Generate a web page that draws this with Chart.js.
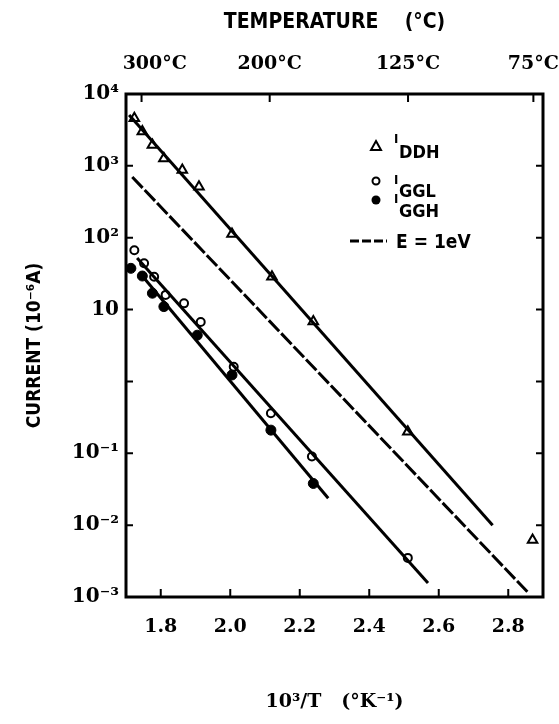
<!DOCTYPE html>
<html><head><meta charset="utf-8">
<script src="https://cdn.jsdelivr.net/npm/chart.js@4/dist/chart.umd.min.js"></script>
<style>html,body{margin:0;padding:0;background:#fff}#wrap{width:559px;height:724px;position:relative}</style>
</head><body><div id="wrap"><canvas id="c" width="559" height="724"></canvas></div>
<script>
// ---- tick definitions ----
const xTicks = [1.8, 2.0, 2.2, 2.4, 2.6, 2.8];
const xTickLabels = ['1.8', '2.0', '2.2', '2.4', '2.6', '2.8'];
const tempTicksC = [300, 200, 125, 75];
const tempTickLabels = ['    300°C', '200°C', '125°C', '75°C'];
const yTicks = [1e-3, 1e-2, 1e-1, 1, 10, 100, 1000, 10000];
const yTickLabels = ['10⁻³', '10⁻²', '10⁻¹', '', '10', '10²', '10³', '10⁴'];

// ---- measured points (x = 10^3/T, y = current in 1e-6 A) ----
const iddhX = [1.724, 1.747, 1.776, 1.809, 1.862, 1.910, 2.005, 2.120, 2.239, 2.511, 2.870];
const iddhY = [4600, 3000, 1950, 1270, 875, 510, 113, 28.7, 6.8, 0.20, 0.0062];
const igglX = [1.724, 1.752, 1.781, 1.814, 1.867, 1.915, 2.010, 2.117, 2.235, 2.511];
const igglY = [67, 44, 28.7, 16, 12.2, 6.7, 1.6, 0.36, 0.090, 0.0035];
const igghX = [1.714, 1.747, 1.776, 1.809, 1.905, 2.005, 2.117, 2.239];
const igghY = [37.5, 29.3, 16.9, 11, 4.4, 1.23, 0.21, 0.038];

// ---- fitted lines (end points) ----
const iddhFitX = [1.709, 2.755]; const iddhFitY = [5100, 0.0100];
const igglFitX = [1.732, 2.569]; const igglFitY = [52, 0.00157];
const igghFitX = [1.738, 2.282]; const igghFitY = [33, 0.0237];
const eFitX = [1.718, 2.855];    const eFitY = [700, 0.00118];

const mk = (xs, ys) => xs.map((x, i) => ({x: x, y: ys[i]}));
const SERIF = "'DejaVu Serif', 'Liberation Serif', serif";
const COND = "'DejaVu Sans Condensed', 'Liberation Sans Narrow', 'DejaVu Sans', sans-serif";

const framePlugin = {
  id: 'frame',
  afterDatasetsDraw(chart) {
    const {ctx, chartArea: a, scales} = chart;
    ctx.save();
    ctx.strokeStyle = '#000';
    ctx.lineWidth = 2;
    ctx.beginPath();
    xTicks.forEach(v => { const p = scales.x.getPixelForValue(v); ctx.moveTo(p, a.bottom); ctx.lineTo(p, a.bottom - 8); });
    tempTicksC.forEach(c => { const p = scales.x2.getPixelForValue(1000 / (c + 273.15)); ctx.moveTo(p, a.top); ctx.lineTo(p, a.top + 8); });
    yTicks.forEach(v => { const p = scales.y.getPixelForValue(v); ctx.moveTo(a.left, p); ctx.lineTo(a.left + 7, p); ctx.moveTo(a.right, p); ctx.lineTo(a.right - 7, p); });
    ctx.stroke();
    ctx.lineWidth = 3;
    ctx.strokeRect(a.left, a.top, a.right - a.left, a.bottom - a.top);
    ctx.restore();
  }
};

const legendPlugin = {
  id: 'customLegend',
  afterDraw(chart) {
    const ctx = chart.ctx;
    ctx.save();
    ctx.fillStyle = '#000'; ctx.strokeStyle = '#000';
    ctx.textAlign = 'left'; ctx.textBaseline = 'alphabetic';
    const mx = 376, tx = 394;
    ctx.lineWidth = 2;
    ctx.beginPath(); ctx.moveTo(mx, 141); ctx.lineTo(mx + 5, 150); ctx.lineTo(mx - 5, 150); ctx.closePath(); ctx.stroke();
    ctx.beginPath(); ctx.arc(mx, 181, 3.5, 0, Math.PI * 2); ctx.stroke();
    ctx.beginPath(); ctx.arc(mx, 200, 4.5, 0, Math.PI * 2); ctx.fill();
    ctx.lineWidth = 3; ctx.setLineDash([9, 3]);
    ctx.beginPath(); ctx.moveTo(350, 241); ctx.lineTo(387, 241); ctx.stroke();
    ctx.setLineDash([]);
    const rows = [['DDH', 143, 158], ['GGL', 184, 197], ['GGH', 203, 217]];
    rows.forEach(r => {
      ctx.font = 'bold 13px ' + COND; ctx.fillText('I', tx, r[1]);
      ctx.font = 'bold 18px ' + COND; ctx.fillText(r[0], tx + 5, r[2]);
    });
    ctx.font = 'bold 19px ' + COND; ctx.fillText('E = 1eV', 396, 248);
    ctx.restore();
  }
};

const lineDs = (label, xs, ys, dash) => ({
  label: label, type: 'line', data: mk(xs, ys), borderColor: '#000', borderWidth: 3,
  borderDash: dash || [], pointRadius: 0, fill: false, tension: 0, xAxisID: 'x', yAxisID: 'y'
});

const noPad = s => { s.paddingLeft = 0; s.paddingRight = 0; s.paddingTop = 0; s.paddingBottom = 0; };

new Chart(document.getElementById('c'), {
  type: 'scatter',
  data: {
    datasets: [
      lineDs('IDDH fit', iddhFitX, iddhFitY),
      lineDs('IGGL fit', igglFitX, igglFitY),
      lineDs('IGGH fit', igghFitX, igghFitY),
      lineDs('E = 1eV', eFitX, eFitY, [15, 3]),
      {label: 'IDDH', data: mk(iddhX, iddhY), pointStyle: 'triangle', pointRadius: 5.5, borderWidth: 2, borderColor: '#000', backgroundColor: '#fff', xAxisID: 'x', yAxisID: 'y'},
      {label: 'IGGL', data: mk(igglX, igglY), pointStyle: 'circle', pointRadius: 4, borderWidth: 2, borderColor: '#000', backgroundColor: '#fff', xAxisID: 'x', yAxisID: 'y'},
      {label: 'IGGH', data: mk(igghX, igghY), pointStyle: 'circle', pointRadius: 5, borderWidth: 1, borderColor: '#000', backgroundColor: '#000', xAxisID: 'x', yAxisID: 'y'}
    ]
  },
  options: {
    responsive: false, animation: false, devicePixelRatio: 1,
    layout: {padding: {left: 0, right: 16, top: 0, bottom: 0}},
    plugins: {legend: {display: false}, tooltip: {enabled: false}},
    scales: {
      x: {
        type: 'linear', position: 'bottom', min: 1.7, max: 2.9,
        grid: {display: false, drawTicks: false}, border: {display: false},
        afterBuildTicks: s => { s.ticks = xTicks.map(v => ({value: v})); },
        ticks: {callback: (v, i) => xTickLabels[i], padding: 19, autoSkip: false, maxRotation: 0, color: '#000', font: {family: SERIF, weight: 'bold', size: 19}},
        title: {display: true, text: '10³/T   (°K⁻¹)', color: '#000', padding: {top: 0, bottom: 11}, font: {family: SERIF, weight: 'bold', size: 19}},
        afterFit: s => { s.height = 127; noPad(s); }
      },
      x2: {
        type: 'linear', position: 'top', min: 1.7, max: 2.9,
        grid: {display: false, drawTicks: false}, border: {display: false},
        afterBuildTicks: s => { s.ticks = tempTicksC.map(c => ({value: 1000 / (c + 273.15)})); },
        ticks: {callback: (v, i) => tempTickLabels[i], padding: 19, autoSkip: false, maxRotation: 0, color: '#000', font: {family: SERIF, weight: 'bold', size: 19}},
        title: {display: true, text: 'TEMPERATURE    (°C)', color: '#000', padding: {top: 10, bottom: 0}, font: {family: COND, weight: 'bold', size: 21}},
        afterFit: s => { s.height = 94; noPad(s); }
      },
      y: {
        type: 'logarithmic', position: 'left', min: 1e-3, max: 1e4,
        grid: {display: false, drawTicks: false}, border: {display: false},
        afterBuildTicks: s => { s.ticks = yTicks.map(v => ({value: v})); },
        ticks: {callback: (v, i) => yTickLabels[i], padding: 7, autoSkip: false, color: '#000', font: {family: SERIF, weight: 'bold', size: 20}},
        title: {display: true, text: 'CURRENT (10⁻⁶A)', color: '#000', padding: {top: 24, bottom: 0}, font: {family: COND, weight: 'bold', size: 19}},
        afterFit: s => { s.width = 126; noPad(s); }
      }
    }
  },
  plugins: [framePlugin, legendPlugin]
});
</script></body></html>
